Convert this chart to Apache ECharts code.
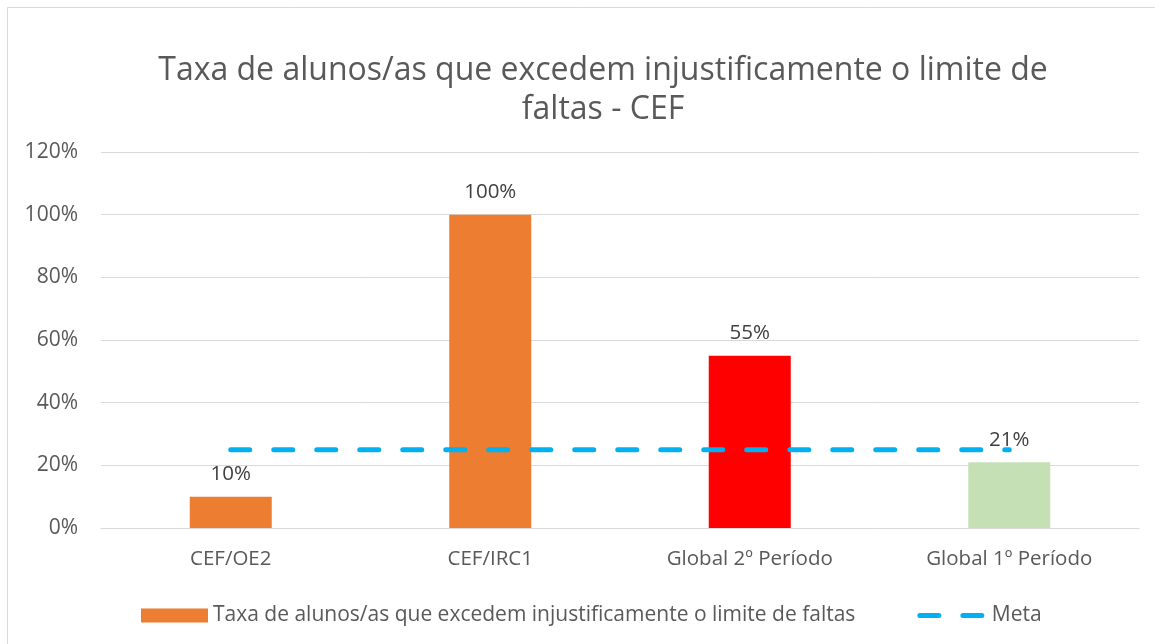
<!DOCTYPE html>
<html>
<head>
<meta charset="utf-8">
<title>Taxa de alunos/as - CEF</title>
<script src="https://cdn.jsdelivr.net/npm/echarts@6/dist/echarts.min.js"></script>
<style>
	html, body { margin: 0; padding: 0; background: #fff; }
	#chart { width: 1155px; height: 644px; }
</style>
</head>
<body>
<div id="chart"></div>
<script>
	// dados
	var categorias = ['CEF/OE2', 'CEF/IRC1', 'Global 2º Período', 'Global 1º Período'];
	var taxa = [10, 100, 55, 21];
	var coresBarras = ['#ED7D31', '#ED7D31', '#FF0000', '#C5E0B4'];
	var meta = [25, 25, 25, 25];
	var nomeTaxa = 'Taxa de alunos/as que excedem injustificamente o limite de faltas';
	var nomeMeta = 'Meta';

	var fonte = '"Open Sans", "Noto Sans", sans-serif';

	var myChart = echarts.init(document.getElementById('chart'));
	var option = {
		animation: false,
		backgroundColor: '#fff',
		textStyle: { fontFamily: fonte },
		graphic: [{
			type: 'rect',
			shape: { x: 7.5, y: 7.5, width: 1300, height: 800 },
			style: { fill: 'none', stroke: '#D9D9D9', lineWidth: 1 },
			silent: true
		}],
		title: {
			text: 'Taxa de alunos/as que excedem injustificamente o limite de\nfaltas - CEF',
			left: 603,
			top: 51,
			padding: 0,
			textAlign: 'center',
			textStyle: {
				fontFamily: fonte,
				fontSize: 32,
				fontWeight: 'normal',
				color: '#595959',
				lineHeight: 39
			}
		},
		grid: {
			left: 101,
			right: 16,
			top: 152,
			bottom: 116
		},
		legend: {
			left: 136,
			top: 600,
			itemWidth: 67,
			itemHeight: 14,
			itemGap: 62,
			textStyle: { fontFamily: fonte, fontSize: 21, color: '#595959' },
			lineStyle: { width: 5, cap: 'round' },
			data: [
				{ name: nomeTaxa, icon: 'rect', itemStyle: { color: '#ED7D31' } },
				{ name: nomeMeta, itemStyle: { color: 'rgba(0,0,0,0)', borderWidth: 0, opacity: 0 } }
			]
		},
		xAxis: {
			type: 'category',
			data: categorias,
			axisLine: { lineStyle: { color: '#D9D9D9', width: 1 } },
			axisTick: { show: false },
			axisLabel: { fontFamily: fonte, fontSize: 20.5, color: '#595959', margin: 21 }
		},
		yAxis: {
			type: 'value',
			min: 0,
			max: 120,
			interval: 20,
			axisLine: { show: false },
			axisTick: { show: false },
			splitLine: { lineStyle: { color: '#D9D9D9', width: 1 } },
			axisLabel: {
				fontFamily: fonte,
				fontSize: 21,
				color: '#595959',
				margin: 23,
				formatter: '{value}%'
			}
		},
		series: [{
			name: nomeTaxa,
			type: 'bar',
			barWidth: 82,
			data: taxa.map(function (v, i) {
				return { value: v, itemStyle: { color: coresBarras[i] } };
			}),
			itemStyle: { color: '#ED7D31' },
			label: {
				show: true,
				position: 'top',
				distance: 12,
				fontFamily: fonte,
				fontSize: 20.5,
				color: '#404040',
				formatter: '{c}%'
			}
		}, {
			name: nomeMeta,
			type: 'line',
			data: meta,
			symbol: 'none',
			lineStyle: {
				color: '#00B0F0',
				width: 5,
				type: [19, 24],
				cap: 'round'
			},
			itemStyle: { color: '#00B0F0' },
			z: 3
		}]
	};
	myChart.setOption(option);
</script>
</body>
</html>
